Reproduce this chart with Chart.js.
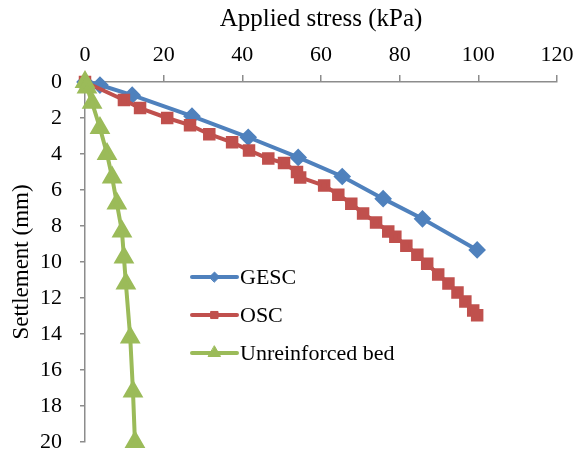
<!DOCTYPE html>
<html>
<head>
<meta charset="utf-8">
<script src="https://cdn.jsdelivr.net/npm/chart.js@4.4.0/dist/chart.umd.min.js"></script>
<style>
  html, body { margin: 0; padding: 0; background: #fff; overflow: hidden; }
  canvas { display: block; }
</style>
</head>
<body>
<canvas id="chart" width="578" height="454"></canvas>
<script>
// Data
const gescStress = [0, 3.8, 12.0, 27.2, 41.5, 54.2, 65.4, 75.8, 85.8, 99.7];
const gescSettle = [0, 0.17, 0.73, 1.9, 3.07, 4.19, 5.25, 6.48, 7.6, 9.33];

const oscStress = [0, 9.9, 14.0, 20.9, 26.7, 31.6, 37.4, 41.7, 46.6, 50.6, 53.9, 54.7, 60.8, 64.4,
  67.7, 70.7, 74.0, 77.1, 78.9, 81.7, 84.5, 87.0, 89.8, 92.4, 94.7, 96.7, 98.7, 99.7];
const oscSettle = [0, 1.0, 1.45, 2.0, 2.4, 2.9, 3.35, 3.8, 4.25, 4.5, 5.0, 5.3, 5.75, 6.26,
  6.76, 7.3, 7.8, 8.3, 8.6, 9.1, 9.6, 10.1, 10.7, 11.2, 11.7, 12.2, 12.7, 12.96];

const unrStress = [0, 0.5, 1.8, 3.8, 5.6, 6.9, 8.1, 9.4, 9.9, 10.4, 11.5, 12.2, 12.7];
const unrSettle = [0, 0.3, 1.15, 2.55, 4.0, 5.3, 6.75, 8.3, 9.75, 11.2, 14.2, 17.2, 20.0];

const seriesLabels = ['GESC', 'OSC', 'Unreinforced bed'];
const xTitle = 'Applied stress (kPa)';
const yTitle = 'Settlement (mm)';

const FONT = '"Liberation Serif", "Times New Roman", serif';
const AXIS_GREY = '#8c8c8c';

const toPoints = (xs, ys) => xs.map((x, i) => ({ x, y: ys[i] }));

// legend drawn inside the plot area, like the original
const insideLegend = {
  id: 'insideLegend',
  afterDraw(chart) {
    const ctx = chart.ctx;
    const x0 = 192, lineLen = 45;
    chart.data.datasets.forEach((ds, i) => {
      const y = 277 + i * 38;
      ctx.save();
      ctx.strokeStyle = ds.borderColor;
      ctx.lineWidth = ds.borderWidth;
      ctx.lineCap = 'round';
      ctx.beginPath();
      ctx.moveTo(x0, y);
      ctx.lineTo(x0 + lineLen, y);
      ctx.stroke();
      ctx.fillStyle = ds.backgroundColor;
      ctx.lineWidth = 1;
      Chart.helpers.drawPoint(ctx, { pointStyle: ds.pointStyle, radius: ds.pointRadius - 1, borderWidth: 1, rotation: 0 }, x0 + lineLen / 2, y);
      ctx.fillStyle = '#000';
      ctx.font = '22px ' + FONT;
      ctx.textBaseline = 'middle';
      ctx.fillText(ds.label, x0 + lineLen + 3, y + 1);
      ctx.restore();
    });
  }
};

// pin the axis boxes so the plot area sits where it does in the original
const noPad = (scale) => {
  scale.paddingLeft = 0;
  scale.paddingRight = 0;
  scale.paddingTop = 0;
  scale.paddingBottom = 0;
};

new Chart(document.getElementById('chart'), {
  type: 'scatter',
  data: {
    datasets: [
      {
        label: seriesLabels[0],
        data: toPoints(gescStress, gescSettle),
        showLine: true,
        borderColor: '#4F81BD',
        backgroundColor: '#4F81BD',
        borderWidth: 4,
        pointStyle: 'rectRot',
        pointRadius: 6,
        order: 2
      },
      {
        label: seriesLabels[1],
        data: toPoints(oscStress, oscSettle),
        showLine: true,
        borderColor: '#C0504D',
        backgroundColor: '#C0504D',
        borderWidth: 4,
        pointStyle: 'rect',
        pointRadius: 6,
        order: 1
      },
      {
        label: seriesLabels[2],
        data: toPoints(unrStress, unrSettle),
        showLine: true,
        borderColor: '#9BBB59',
        backgroundColor: '#9BBB59',
        borderWidth: 4,
        pointStyle: 'triangle',
        pointRadius: 8,
        order: 0
      }
    ]
  },
  options: {
    responsive: false,
    animation: false,
    clip: false,
    layout: { padding: { left: 8, top: 4, right: 21, bottom: 8 } },
    plugins: {
      legend: { display: false },
      tooltip: { enabled: false }
    },
    scales: {
      x: {
        type: 'linear',
        position: 'top',
        min: 0,
        max: 120,
        afterFit: (scale) => { scale.height = 78; noPad(scale); },
        border: { display: true, color: AXIS_GREY, width: 1.5 },
        grid: { drawOnChartArea: false, drawTicks: true, tickLength: 7, color: AXIS_GREY, lineWidth: 1.5 },
        ticks: { stepSize: 20, color: '#000', padding: 7, font: { family: FONT, size: 22 } },
        title: { display: true, text: xTitle, color: '#000', padding: 0, font: { family: FONT, size: 25 } }
      },
      y: {
        type: 'linear',
        reverse: true,
        min: 0,
        max: 20,
        afterFit: (scale) => { scale.width = 77; noPad(scale); },
        border: { display: true, color: AXIS_GREY, width: 1.5 },
        grid: { drawOnChartArea: false, drawTicks: true, tickLength: 5, color: AXIS_GREY, lineWidth: 1.5 },
        ticks: { stepSize: 2, color: '#000', padding: 18, font: { family: FONT, size: 22 } },
        title: { display: true, text: yTitle, color: '#000', padding: 0, font: { family: FONT, size: 23 } }
      }
    }
  },
  plugins: [insideLegend]
});
</script>
</body>
</html>
